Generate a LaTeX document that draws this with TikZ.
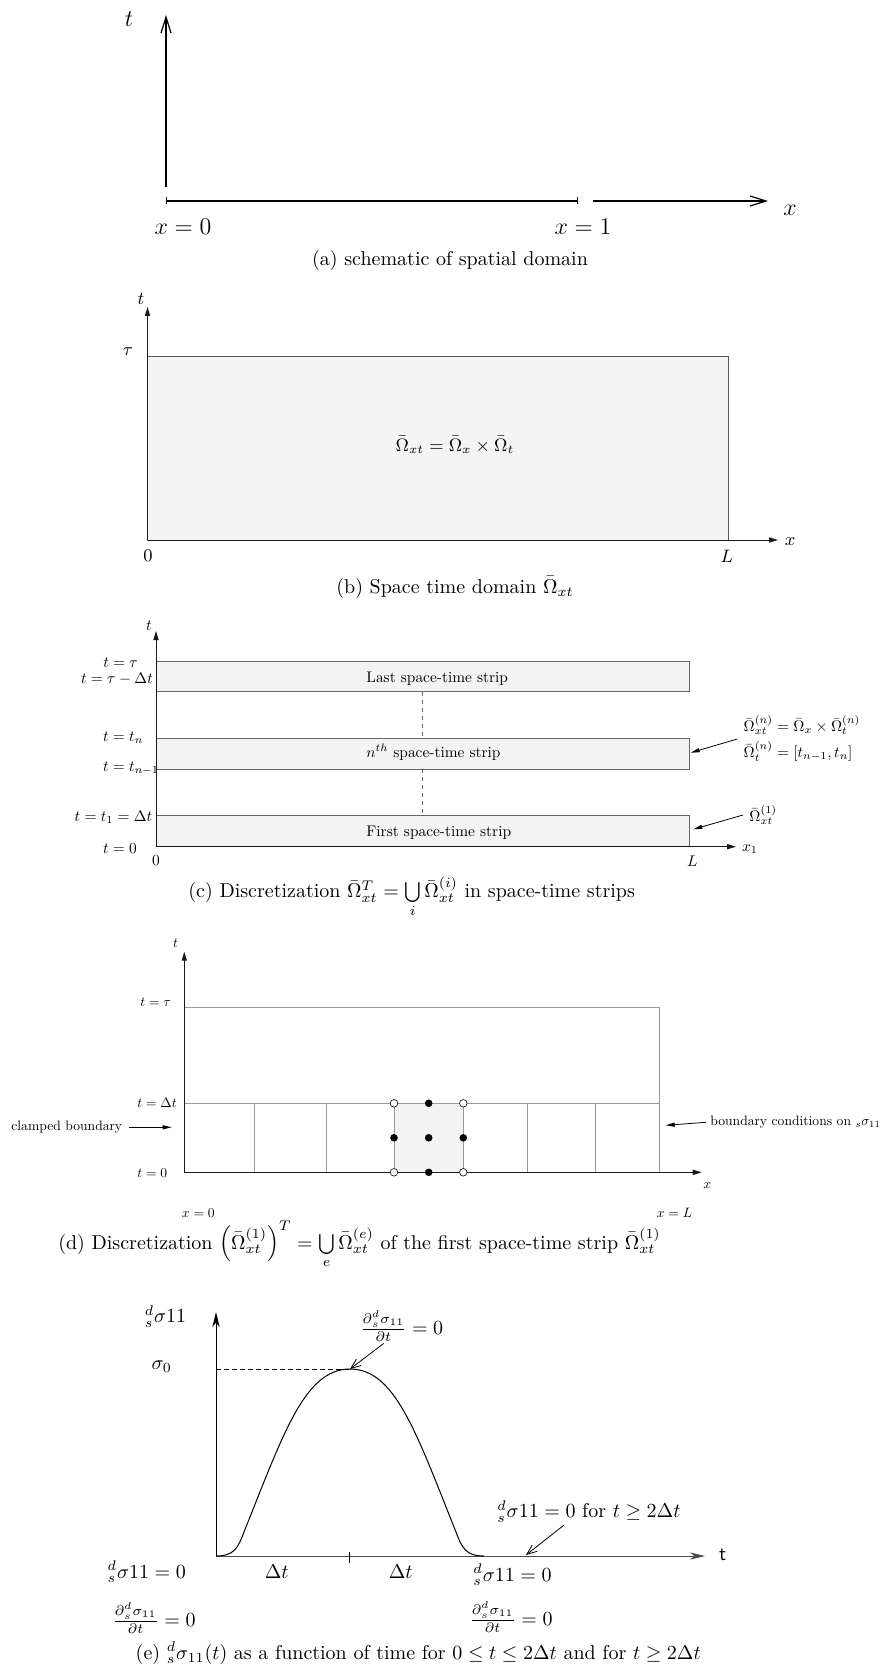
\documentclass[tikz,border=0pt]{standalone}
\usepackage{amsmath}
\usepackage{graphicx}
\usepackage{xcolor}
\definecolor{cInk}{HTML}{1A1A1A}
\definecolor{cEdge}{HTML}{666666}
\definecolor{cGrid}{HTML}{9A9A9A}
\definecolor{cFill}{HTML}{F4F4F4}
\usepackage{tikz}
\usetikzlibrary{positioning,arrows.meta}
\newsavebox{\lblbox}
\newcommand{\dsigma}{{}^{d}_{s}\sigma 11}
\newcommand{\ddsig}{\frac{\partial{}^{d}_{s}\sigma_{11}}{\partial t}}
\tikzset{
  % small labels: 10pt text scaled down, as in the scaled source figures
  shrink/.style={execute at begin node={\begin{lrbox}{\lblbox}},
    execute at end node={\end{lrbox}\scalebox{#1}{\usebox{\lblbox}}}},
  lbl-a/.style={inner sep=1pt,font=\fontsize{12}{14}\selectfont},
  lbl-b/.style={inner sep=1pt,font=\fontsize{9}{11}\selectfont},
  lbl-c/.style={inner sep=1pt,font=\fontsize{10}{12}\selectfont,shrink=0.77},
  lbl-d/.style={inner sep=1pt,font=\fontsize{10}{12}\selectfont,shrink=0.68},
  lbl-e/.style={inner sep=1pt,font=\fontsize{10}{12}\selectfont},
  caption-text/.style={anchor=base,inner sep=0pt,font=\fontsize{10}{12}\selectfont},
  axis-open/.style={line width=0.6pt,-{Straight Barb[length=8pt,width=5pt]}},
  axis-fill/.style={draw=cInk,line width=0.5pt,-{Triangle[length=4.5pt,width=2.6pt]}},
  axis-stealth/.style={line width=0.5pt,-{Stealth[length=7.5pt,width=3.6pt,inset=2.2pt]}},
  arrow-note/.style={line width=0.4pt,-{Triangle[length=4.5pt,width=2pt]}},
  arrow-open/.style={line width=0.4pt,-{Straight Barb[length=5pt,width=4pt]}},
  strip-box/.style={draw=cEdge,fill=cFill,line width=0.5pt},
  elem-line/.style={draw=cGrid,line width=0.5pt},
  node-hollow/.style={circle,draw=cInk,fill=white,line width=0.35pt,inner sep=0pt,minimum size=3.8pt},
  node-solid/.style={circle,fill=black,inner sep=0pt,minimum size=3.8pt},
}

\begin{document}
\begin{tikzpicture}[x=0.5pt,y=-0.5pt]
  \useasboundingbox (0,0) rectangle (890,1668);

  % (a)
  \draw[axis-open] (166,187) -- (166,15);
  \draw[line width=0.6pt,{Bar[width=3.5pt]}-{Bar[width=3.5pt]}] (166,201) -- (578,201);
  \draw[axis-open] (593,201) -- (768,201);
  \node[lbl-a] (a-t) at (129,19) {$t$};
  \node[lbl-a] (a-x) at (790,210) {$x$};
  \node[lbl-a] (a-x0) at (183,227) {$x=0$};
  \node[lbl-a] (a-x1) at (583,227) {$x=1$};
  \node[caption-text] (cap-a) at (450,266) {(a) schematic of spatial domain};

  % (b)
  \draw[strip-box,draw=black!65] (147.5,356.7) rectangle (728.6,540);
  \draw[axis-fill] (147.5,540) -- (147.5,307);
  \draw[axis-fill] (147.5,540) -- (778,540);
  \node[lbl-b] (b-t) at (141,299) {$t$};
  \node[lbl-b] (b-tau) at (128,352) {$\tau$};
  \node[lbl-b] (b-x) at (790,542) {$x$};
  \node[lbl-b] (b-0) at (148,556) {$0$};
  \node[lbl-b] (b-L) at (727,556) {$L$};
  \node[lbl-b] (b-omega) at (455,445) {$\bar{\Omega}_{xt}=\bar{\Omega}_{x}\times\bar{\Omega}_{t}$};
  \node[caption-text] (cap-b) at (455,593) {(b) Space time domain $\bar{\Omega}_{xt}$};

  % (c)
  \foreach \ya/\yb in {661/691.7,738.3/769,815.7/846.7}
    \draw[strip-box] (156,\ya) rectangle (689.3,\yb);
  \draw[cEdge,dash pattern=on 2pt off 2pt] (422.7,691.7) -- (422.7,738.3)
    (422.7,769) -- (422.7,815.7);
  \draw[axis-fill] (156,846.7) -- (156,631);
  \draw[axis-fill] (156,846.7) -- (736,846.7);
  \node[lbl-c] (c-t) at (149,626) {$t$};
  \node[lbl-c,anchor=west] (c-tau) at (101,662.7) {$t=\tau$};
  \node[lbl-c,anchor=west] (c-taudt) at (78.7,679) {$t=\tau-\Delta t$};
  \node[lbl-c,anchor=west] (c-tn) at (100.7,737.7) {$t=t_{n}$};
  \node[lbl-c,anchor=west] (c-tn1) at (100.7,768.3) {$t=t_{n-1}$};
  \node[lbl-c,anchor=west] (c-t1) at (72.3,817.3) {$t=t_{1}=\Delta t$};
  \node[lbl-c,anchor=west] (c-t0) at (100.7,848.3) {$t=0$};
  \node[lbl-c,anchor=west] (c-last) at (364,678.3) {Last space-time strip};
  \node[lbl-c,anchor=west] (c-nth) at (364,752.3) {$n^{th}$ space-time strip};
  \node[lbl-c,anchor=west] (c-first) at (364,832.3) {First space-time strip};
  \node[lbl-c] (c-0) at (156,861) {$0$};
  \node[lbl-c] (c-L) at (692.3,861) {$L$};
  \node[lbl-c] (c-x) at (750,849) {$x_{1}$};
  \node[lbl-c,anchor=west,inner sep=3pt] (c-note-n) at (737.3,739)
    {\begin{tabular}{@{}l@{}}
       $\bar{\Omega}^{(n)}_{xt}=\bar{\Omega}_{x}\times\bar{\Omega}^{(n)}_{t}$\\[3pt]
       $\bar{\Omega}^{(n)}_{t}=[t_{n-1},t_{n}]$
     \end{tabular}};
  \node[lbl-c,anchor=west,inner sep=3pt] (c-note-1) at (743,815) {$\bar{\Omega}^{(1)}_{xt}$};
  \coordinate (c-edge-n) at (690.7,752.7);
  \coordinate (c-edge-1) at (693.3,829.3);
  \draw[arrow-note] (c-note-n.west) -- (c-edge-n);
  \draw[arrow-note] (c-note-1.west) -- (c-edge-1);
  \node[caption-text] (cap-c) at (411.7,897.7)
    {(c) Discretization $\bar{\Omega}^{T}_{xt}=\bigcup\limits_{i}\bar{\Omega}^{(i)}_{xt}$ in space-time strips};

  % (d)
  \fill[cFill] (394,1103.3) rectangle (463.3,1172.3);
  \draw[elem-line] (184.3,1007.3) -- (659,1007.3) -- (659,1172.3);
  \draw[elem-line] (184.3,1103.3) -- (659,1103.3);
  \foreach \xe in {254.3,326.7,394,463.3,527.7,595}
    \draw[elem-line] (\xe,1103.3) -- (\xe,1172.3);
  \draw[axis-fill] (184.3,1172.3) -- (184.3,951.7);
  \draw[axis-fill] (184.3,1172.3) -- (701.7,1172.3);
  \foreach \px/\py [count=\k] in {394/1103.3,463.3/1103.3,394/1172.3,463.3/1172.3}
    \node[node-hollow] (d-open-\k) at (\px,\py) {};
  \foreach \px/\py [count=\k] in {428.7/1103.3,394/1137.8,428.7/1137.8,463.3/1137.8,428.7/1172.3}
    \node[node-solid] (d-dot-\k) at (\px,\py) {};
  \node[lbl-d] (d-t) at (175.7,943.3) {$t$};
  \node[lbl-d,anchor=west] (d-tau) at (138,1002.7) {$t=\tau$};
  \node[lbl-d,anchor=west] (d-dt) at (135,1102.7) {$t=\Delta t$};
  \node[lbl-d,anchor=west] (d-t0) at (135,1173.3) {$t=0$};
  \node[lbl-d] (d-x) at (707.3,1186) {$x$};
  \node[lbl-d] (d-x0) at (198.3,1212.7) {$x=0$};
  \node[lbl-d] (d-xL) at (674.5,1212.7) {$x=L$};
  \node[lbl-d,inner sep=3pt] (d-clamp) at (66.8,1127.3) {clamped boundary};
  \node[lbl-d,anchor=west,inner sep=2pt] (d-bc) at (706,1122.3) {boundary conditions on ${}_{s}\sigma_{11}$};
  \coordinate (d-left) at (171.7,1127.3);
  \coordinate (d-right) at (665.7,1125.3);
  \draw[arrow-note] (d-clamp.east) -- (d-left);
  \draw[arrow-note] (d-bc.west) -- (d-right);
  \node[caption-text] (cap-d) at (359.5,1249)
    {(d) Discretization $\left(\bar{\Omega}^{(1)}_{xt}\right)^{T}=\bigcup\limits_{e}\bar{\Omega}^{(e)}_{xt}$ of the first space-time strip $\bar{\Omega}^{(1)}_{xt}$};

  % (e)
  \coordinate (peak) at (350,1369);
  \draw[axis-stealth] (216,1556) -- (216,1312);
  \draw[axis-stealth,draw=black!70] (216,1556) -- (705,1556);
  \draw[line width=0.5pt] (349.3,1551.7) -- (349.3,1563.3);
  \draw[line width=0.5pt,dash pattern=on 2.5pt off 1.5pt] (216,1369) -- (peak);
  \draw[line width=0.5pt] (216,1556) .. controls (234,1556) and (238,1548) .. (244,1532)
    .. controls (284,1432) and (305,1369) .. (peak)
    .. controls (395,1369) and (416,1432) .. (456,1532)
    .. controls (462,1548) and (466,1556) .. (484,1556);
  \node[lbl-e] (e-y) at (165.5,1316.7) {$\dsigma$};
  \node[lbl-e] (e-s0) at (161.7,1366.7) {$\sigma_{0}$};
  \node[lbl-e] (e-pk) at (401.7,1326) {$\ddsig=0$};
  \draw[arrow-open] ([xshift=-9pt]e-pk.south) -- (peak);
  \node[lbl-e] (e-dt1) at (276.7,1571.7) {$\Delta t$};
  \node[lbl-e] (e-dt2) at (400.7,1571.7) {$\Delta t$};
  \node[lbl-e] (e-l0) at (146.8,1572) {$\dsigma=0$};
  \node[lbl-e] (e-l1) at (154,1618) {$\ddsig=0$};
  \node[lbl-e] (e-r0) at (512.5,1575) {$\dsigma=0$};
  \node[lbl-e] (e-r1) at (511,1617) {$\ddsig=0$};
  \node[lbl-e] (e-tail) at (589,1511.7) {$\dsigma=0$ for $t\geq 2\Delta t$};
  \coordinate (e-foot) at (526,1555);
  \draw[arrow-open] ([xshift=-12.5pt]e-tail.south) -- (e-foot);
  \node[lbl-e,font=\fontsize{10}{12}\selectfont\sffamily] (e-t) at (722.7,1555) {t};
  \node[caption-text] (cap-e) at (418.3,1659)
    {(e) ${}^{d}_{s}\sigma_{11}(t)$ as a function of time for $0\leq t\leq 2\Delta t$ and for $t\geq 2\Delta t$};
\end{tikzpicture}
\end{document}
